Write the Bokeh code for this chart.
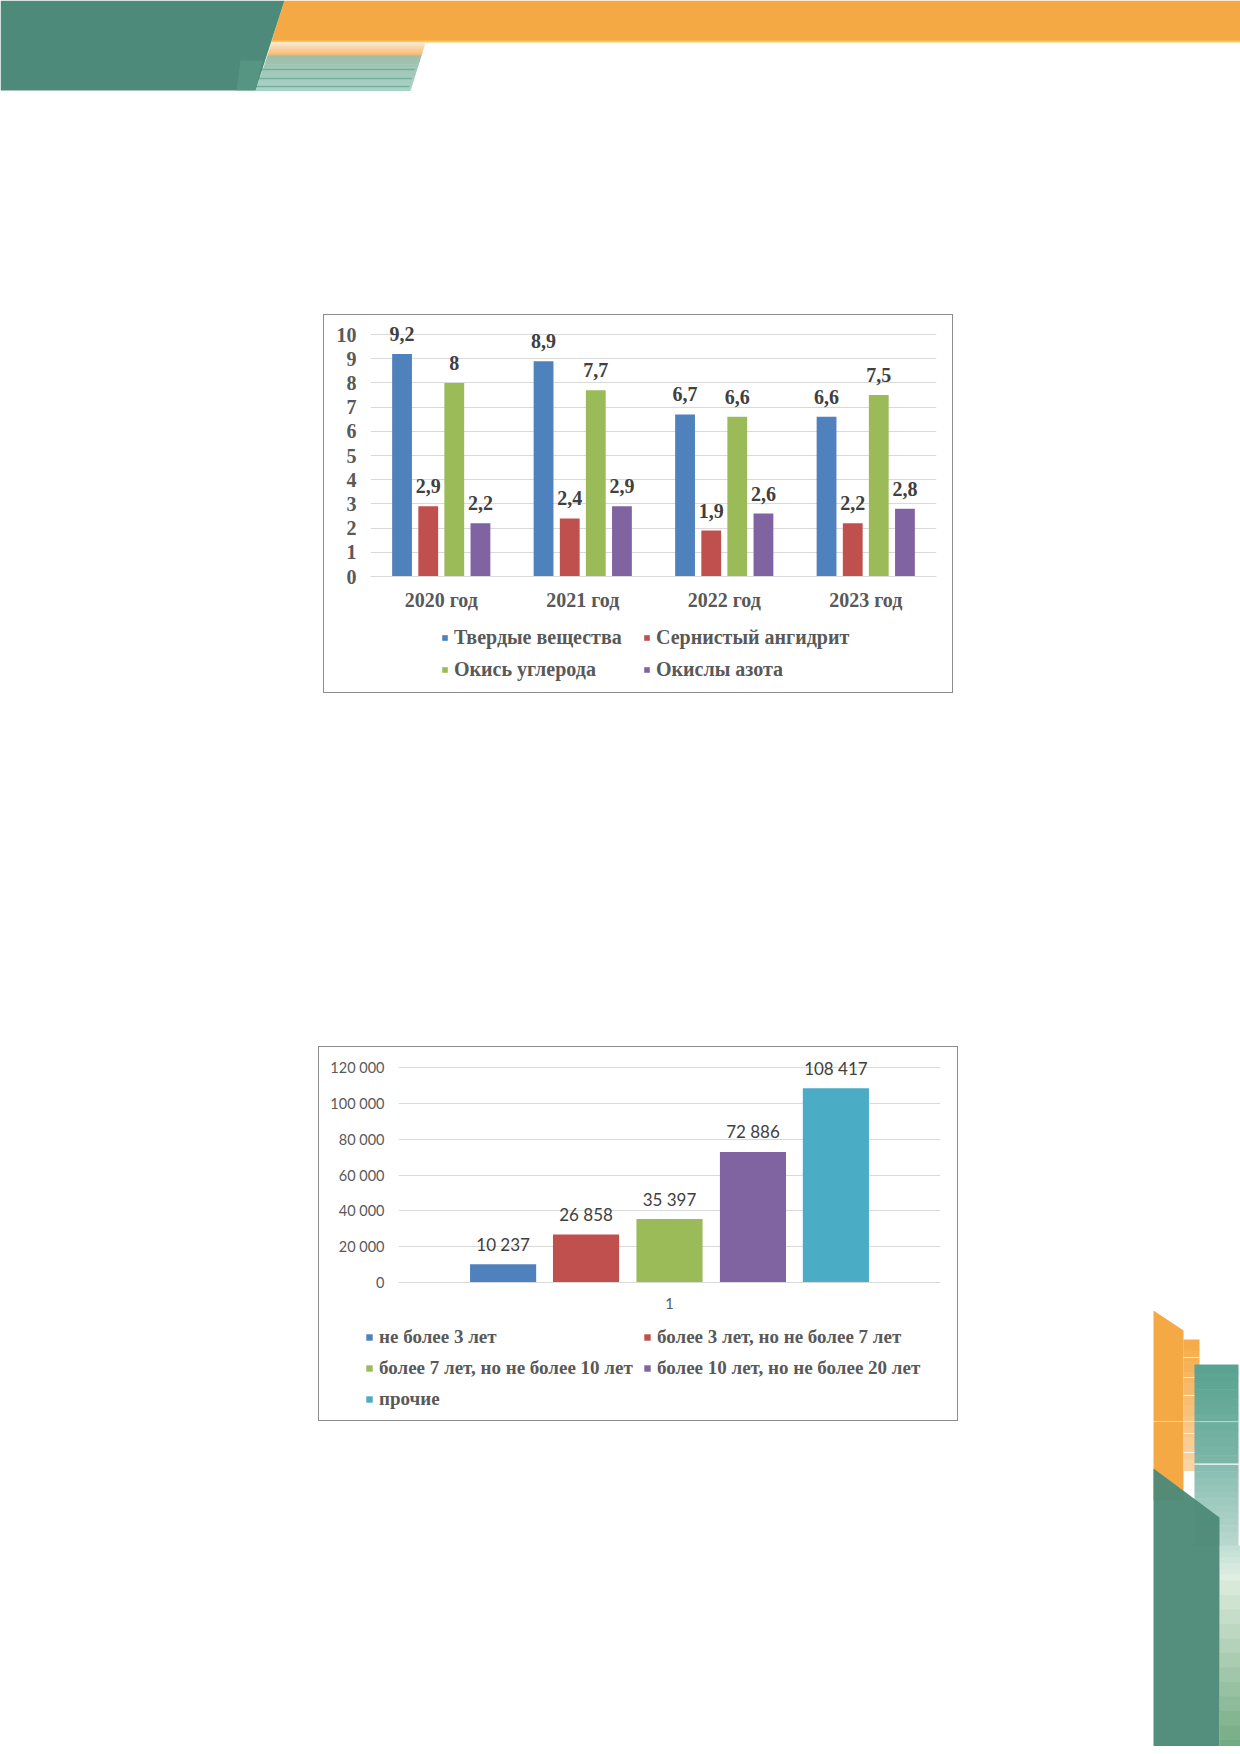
from bokeh.plotting import figure
from bokeh.models import (ColumnDataSource, FactorRange, Range1d, Legend, LegendItem,
                          Spacer, FixedTicker)
from bokeh.layouts import column, row
from bokeh.transform import dodge
from bokeh.core.properties import value
from bokeh.embed import file_html
from bokeh.resources import INLINE

# ---------------- data: chart 1 ----------------
years = ["2020 год", "2021 год", "2022 год", "2023 год"]
series1_names = ["Твердые вещества", "Сернистый ангидрит", "Окись углерода", "Окислы азота"]
solid = [9.2, 8.9, 6.7, 6.6]
sulfur = [2.9, 2.4, 1.9, 2.2]
carbon = [8.0, 7.7, 6.6, 7.5]
nitrogen = [2.2, 2.9, 2.6, 2.8]
y1_ticks = [0, 1, 2, 3, 4, 5, 6, 7, 8, 9, 10]

# ---------------- data: chart 2 ----------------
cat2 = ["1"]
series2_names = ["не более 3 лет", "более 3 лет, но не более 7 лет",
                 "более 7 лет, но не более 10 лет", "более 10 лет, но не более 20 лет",
                 "прочие"]
counts = [10237, 26858, 35397, 72886, 108417]
y2_ticks = [0, 20000, 40000, 60000, 80000, 100000, 120000]
y2_tick_labels = ["0", "20 000", "40 000", "60 000", "80 000", "100 000", "120 000"]

C_BLUE, C_RED, C_GREEN, C_PURPLE, C_CYAN = "#4F81BD", "#C0504D", "#9BBB59", "#8064A2", "#4BACC6"
SERIF = "Liberation Serif"
SANS = "Lato"
GRID = "#D9D9D9"
BOX = "1px solid #8c8c8c"


def legend_fig(w, h, names, colors, order, loc, glyph, standoff, lwidth, spacing, fsize):
    f = figure(width=w, height=h, x_range=Range1d(0, 1), y_range=Range1d(0, 1),
               x_axis_type=None, y_axis_type=None, min_border=0, outline_line_color=None,
               toolbar_location=None, output_backend="svg")
    rend = {}
    for name, col in zip(names, colors):
        rend[name] = f.vbar(x=[5], top=[0], width=0.1, fill_color=col, line_color=None)
    # legend grid is filled column by column: reorder so rows read like the original
    items = [LegendItem(label=names[i], renderers=[rend[names[i]]]) for i in order]
    leg = Legend(items=items, location=loc, ncols=2,
                 label_text_font=SERIF, label_text_font_style="bold",
                 label_text_font_size=fsize, label_text_color="#595959",
                 glyph_width=glyph, glyph_height=glyph, label_standoff=standoff,
                 label_width=lwidth, label_height=20, spacing=spacing, padding=0,
                 margin=0, border_line_color=None, background_fill_alpha=0)
    f.add_layout(leg)
    return f


# ---------------- chart 1 ----------------
p1 = figure(x_range=FactorRange(*years), y_range=Range1d(0, 10.79),
            width=628, height=305, output_backend="svg", toolbar_location=None,
            min_border_left=46, min_border_right=16, min_border_top=0, min_border_bottom=44,
            outline_line_color=None)
offs1 = [-0.277, -0.092, 0.092, 0.277]
vals1 = [solid, sulfur, carbon, nitrogen]
cols1 = [C_BLUE, C_RED, C_GREEN, C_PURPLE]
for vals, col, off in zip(vals1, cols1, offs1):
    src = ColumnDataSource(dict(x=years, top=vals,
                                lbl=[f"{v:g}".replace(".", ",") for v in vals]))
    p1.vbar(x=dodge("x", off, range=p1.x_range), top="top", width=0.14,
            source=src, fill_color=col, line_color=None)
    p1.text(x=dodge("x", off, range=p1.x_range), y="top", text="lbl", source=src,
            text_align="center", text_baseline="alphabetic", y_offset=-20,
            text_font=value(SERIF), text_font_style="bold", text_font_size="20px",
            text_color="#404040")

p1.yaxis.ticker = FixedTicker(ticks=y1_ticks)
p1.ygrid.ticker = FixedTicker(ticks=y1_ticks)
p1.ygrid.grid_line_color = GRID
p1.xgrid.grid_line_color = None
for ax in (p1.xaxis, p1.yaxis):
    ax.major_tick_line_color = None
    ax.minor_tick_line_color = None
    ax.major_label_text_font = SERIF
    ax.major_label_text_font_style = "bold"
    ax.major_label_text_font_size = "20px"
    ax.major_label_text_color = "#595959"
p1.yaxis.axis_line_color = None
p1.yaxis.major_label_standoff = 8
p1.xaxis.axis_line_color = GRID
p1.xaxis.major_label_standoff = 6

l1 = legend_fig(511, 72, series1_names, cols1, [0, 2, 1, 3], (0, 11), 7, 6, 180, 9, "20px")
wrap1 = column(p1, row(Spacer(width=117, height=72), l1), styles={"border": BOX})

# ---------------- chart 2 ----------------
p2 = figure(x_range=FactorRange(*cat2), y_range=Range1d(0, 131200),
            width=638, height=273, output_backend="svg", toolbar_location=None,
            min_border_left=79, min_border_right=17, min_border_top=0, min_border_bottom=38,
            outline_line_color=None)
offs2 = [-0.307, -0.154, 0.0, 0.154, 0.307]
cols2 = [C_BLUE, C_RED, C_GREEN, C_PURPLE, C_CYAN]
for v, col, off in zip(counts, cols2, offs2):
    src = ColumnDataSource(dict(x=cat2, top=[v], lbl=[f"{v:,}".replace(",", " ")]))
    p2.vbar(x=dodge("x", off, range=p2.x_range), top="top", width=0.122,
            source=src, fill_color=col, line_color=None)
    p2.text(x=dodge("x", off, range=p2.x_range), y="top", text="lbl", source=src,
            text_align="center", text_baseline="alphabetic", y_offset=-20,
            text_font=value(SANS), text_font_size="17px", text_color="#404040")

p2.yaxis.ticker = FixedTicker(ticks=y2_ticks)
p2.yaxis.major_label_overrides = {t: l for t, l in zip(y2_ticks, y2_tick_labels)}
p2.ygrid.ticker = FixedTicker(ticks=y2_ticks)
p2.ygrid.grid_line_color = GRID
p2.xgrid.grid_line_color = None
for ax in (p2.xaxis, p2.yaxis):
    ax.major_tick_line_color = None
    ax.minor_tick_line_color = None
    ax.major_label_text_font = SANS
    ax.major_label_text_font_size = "14.5px"
    ax.major_label_text_color = "#595959"
p2.yaxis.axis_line_color = None
p2.yaxis.major_label_standoff = 8
p2.xaxis.axis_line_color = GRID
p2.xaxis.major_label_standoff = 9

l2 = legend_fig(592, 100, series2_names, cols2, [0, 2, 4, 1, 3], (0, 10), 8, 6, 255, 9,
                "19px")
wrap2 = column(p2, row(Spacer(width=46, height=100), l2), styles={"border": BOX})

# ---------------- page decoration ----------------
def hex2rgb(h):
    h = h.lstrip("#")
    return tuple(int(h[i:i + 2], 16) for i in (0, 2, 4))

def mix(c1, c2, t):
    a, b = hex2rgb(c1), hex2rgb(c2)
    return "#%02x%02x%02x" % tuple(round(a[i] + (b[i] - a[i]) * t) for i in range(3))

def deco_fig(x0, x1, y0, y1):
    return figure(x_range=Range1d(x0, x1), y_range=Range1d(y1, y0), width=x1 - x0,
                  height=y1 - y0, output_backend="svg", toolbar_location=None,
                  x_axis_type=None, y_axis_type=None, min_border=0,
                  outline_line_color=None)

def grad(f, xlt, xlb, xrt, xrb, yt, yb, ct, cb, n=12):
    xs, ys, cs = [], [], []
    for k in range(n):
        t0, t1 = k / n, (k + 1) / n
        ya, yb_ = yt + (yb - yt) * t0, yt + (yb - yt) * t1
        xla, xlb_ = xlt + (xlb - xlt) * t0, xlt + (xlb - xlt) * t1
        xra, xrb_ = xrt + (xrb - xrt) * t0, xrt + (xrb - xrt) * t1
        xs.append([xla, xra, xrb_, xlb_])
        ys.append([ya, ya, yb_ + 0.6, yb_ + 0.6])
        cs.append(mix(ct, cb, (k + 0.5) / n))
    f.patches(xs, ys, fill_color=cs, line_color=None)

ORANGE = "#F5A945"
DGREEN = "#4E8A79"

top = deco_fig(0, 1240, 0, 95)
top.patch([284, 1240, 1240, 271], [0, 0, 41, 41], fill_color=ORANGE, line_color=None)
top.line([271, 1240], [41, 41], line_color="#F7C65E", line_width=2)
grad(top, 271, 267, 425, 421, 42, 55, "#FCEBD3", "#F2B56C")
grad(top, 267, 255, 421, 410, 55, 90, "#9DBDA9", "#A9D4C8")
for yy in (69, 78, 86):
    top.line([255, 414 - (yy - 69) * 0.3], [yy, yy], line_color="#76AE9E", line_width=1.5)
top.patch([0, 284, 255, 0], [0, 0, 90, 90], fill_color=DGREEN, line_color=None)
top.patch([240, 262, 255, 236], [60, 60, 90, 90], fill_color="#5E9C8A", line_color=None,
          fill_alpha=0.6)


def draw_side(f):
    f.patch([1153, 1183, 1183, 1153], [1310, 1330, 1500, 1500], fill_color=ORANGE,
            line_color=None)
    grad(f, 1183, 1183, 1199, 1199, 1339, 1470, "#F5A945", "#FAD6A8")
    for yy in (1357, 1377, 1395, 1433, 1452):
        f.line([1183, 1199], [yy, yy], line_color="white", line_width=1, line_alpha=0.8)
    grad(f, 1194, 1194, 1238, 1238, 1364, 1463, "#58A190", "#7DB7A8")
    grad(f, 1194, 1194, 1238, 1238, 1464, 1545, "#86BDB0", "#B9D8CE")
    f.line([1194, 1238], [1463.5, 1463.5], line_color="white", line_width=1)
    grad(f, 1219, 1219, 1240, 1240, 1545, 1580, "#C0DDD3", "#E4EFE6", n=6)
    grad(f, 1219, 1219, 1240, 1240, 1580, 1754, "#DDEBDD", "#6EA87E")
    f.patch([1153, 1219, 1219, 1153], [1468, 1517, 1754, 1754], fill_color=DGREEN,
            line_color=None, fill_alpha=0.97)


side1 = deco_fig(958, 1240, 1046, 1421)
draw_side(side1)
side2 = deco_fig(958, 1240, 1421, 1746)
draw_side(side2)

# ---------------- layout ----------------
page = column(
    top,
    Spacer(height=219),
    row(Spacer(width=323), wrap1),
    Spacer(height=353),
    row(Spacer(width=318), wrap2, side1),
    row(Spacer(width=958), side2),
    styles={"position": "absolute", "left": "0px", "top": "0px"},
)

open("out.html", "w").write(file_html(page, INLINE))
